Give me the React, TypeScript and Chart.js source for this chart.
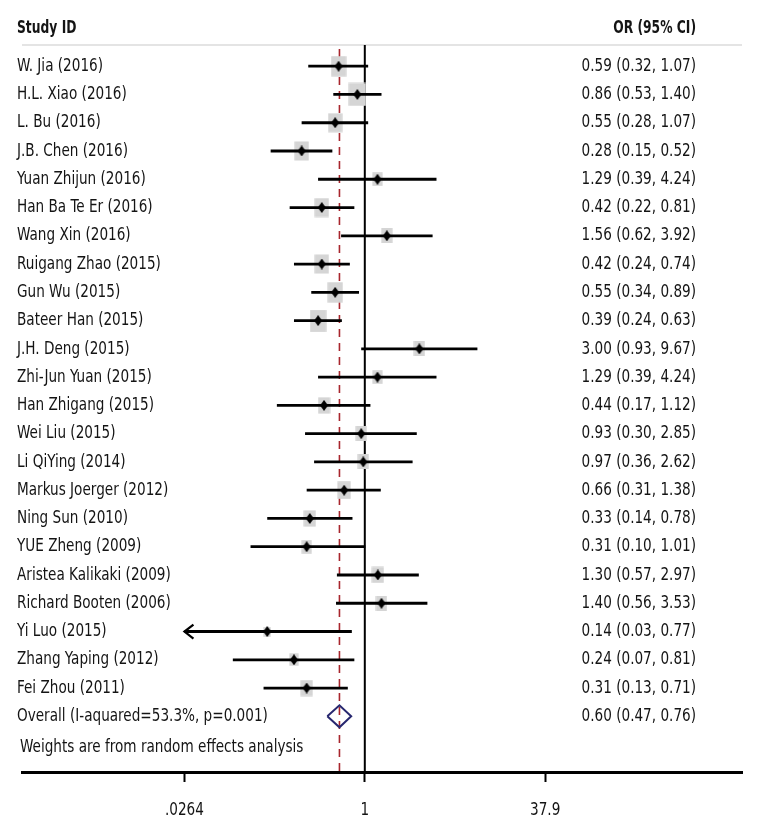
import { useEffect, useRef } from "react";
import { Chart, registerables } from "chart.js";

Chart.register(...registerables);

const STUDIES: string[] = [
  "W. Jia (2016)",
  "H.L. Xiao (2016)",
  "L. Bu (2016)",
  "J.B. Chen (2016)",
  "Yuan Zhijun (2016)",
  "Han Ba Te Er (2016)",
  "Wang Xin (2016)",
  "Ruigang Zhao (2015)",
  "Gun Wu (2015)",
  "Bateer Han (2015)",
  "J.H. Deng (2015)",
  "Zhi-Jun Yuan (2015)",
  "Han Zhigang (2015)",
  "Wei Liu (2015)",
  "Li QiYing (2014)",
  "Markus Joerger (2012)",
  "Ning Sun (2010)",
  "YUE Zheng (2009)",
  "Aristea Kalikaki (2009)",
  "Richard Booten (2006)",
  "Yi Luo (2015)",
  "Zhang Yaping (2012)",
  "Fei Zhou (2011)",
];

const OR: number[] = [0.59, 0.86, 0.55, 0.28, 1.29, 0.42, 1.56, 0.42, 0.55, 0.39, 3.0, 1.29, 0.44, 0.93, 0.97, 0.66, 0.33, 0.31, 1.3, 1.4, 0.14, 0.24, 0.31];
const LO: number[] = [0.32, 0.53, 0.28, 0.15, 0.39, 0.22, 0.62, 0.24, 0.34, 0.24, 0.93, 0.39, 0.17, 0.3, 0.36, 0.31, 0.14, 0.1, 0.57, 0.56, 0.026, 0.07, 0.13];
const HI: number[] = [1.07, 1.4, 1.07, 0.52, 4.24, 0.81, 3.92, 0.74, 0.89, 0.63, 9.67, 4.24, 1.12, 2.85, 2.62, 1.38, 0.78, 1.01, 2.97, 3.53, 0.77, 0.81, 0.71];
// approximate random-effects weights (%)
const WEIGHTS: number[] = [6.3, 8.1, 5.5, 5.5, 2.8, 5.5, 3.4, 5.5, 6.3, 7.2, 3.4, 2.8, 4.0, 3.4, 3.4, 4.7, 4.0, 2.8, 4.0, 3.4, 1.4, 2.3, 4.0];

const OVERALL_LABEL = "Overall (I-aquared=53.3%, p=0.001)";
const OVERALL_OR = 0.6;
const OVERALL_LO = 0.47;
const OVERALL_HI = 0.76;
const WEIGHTS_NOTE = "Weights are from random effects analysis";
const HEADER_LEFT = "Study ID";
const HEADER_RIGHT = "OR (95% CI)";

const TICK_VALUES: number[] = [0.0264, 1, 37.9];
const TICK_LABELS: string[] = [".0264", "1", "37.9"];
const X_MIN = 0.001;
const X_MAX = 2000;

const FONT_FAMILY = '"DejaVu Sans Condensed", "DejaVu Sans", sans-serif';
const FONT_SIZE = 18;
const SCALE_X = 0.84;
const SCALE_X_BOLD = 0.76;
const TEXT_COLOR = "#141414";

const fmt = (v: number) => v.toFixed(2);

function makeBox(w: number, h: number, color: string): HTMLCanvasElement {
  const c = document.createElement("canvas");
  c.width = Math.ceil(w);
  c.height = Math.ceil(h);
  const g = c.getContext("2d")!;
  g.fillStyle = color;
  g.fillRect((c.width - w) / 2, (c.height - h) / 2, w, h);
  return c;
}

function makeDiamond(w: number, h: number, color: string): HTMLCanvasElement {
  const c = document.createElement("canvas");
  c.width = w;
  c.height = h;
  const g = c.getContext("2d")!;
  g.fillStyle = color;
  g.beginPath();
  g.moveTo(w / 2, 0);
  g.lineTo(w, h / 2);
  g.lineTo(w / 2, h);
  g.lineTo(0, h / 2);
  g.closePath();
  g.fill();
  return c;
}

export default function App() {
  const ref = useRef<HTMLCanvasElement>(null);

  useEffect(() => {
    const canvas = ref.current;
    if (!canvas) return;
    const n = STUDIES.length;
    const overallRow = n;
    const noteRow = n + 1.1;
    const headerRow = -1.34;
    const xClip = TICK_VALUES[0];

    const ciData: any[] = [];
    STUDIES.forEach((_, i) => {
      ciData.push({ x: Math.max(LO[i], xClip), y: i });
      ciData.push({ x: HI[i], y: i });
      ciData.push({ x: HI[i], y: null });
    });
    const points = STUDIES.map((_, i) => ({ x: OR[i], y: i }));
    const boxes = WEIGHTS.map((w) => {
      const side = 6.1 * Math.sqrt(w);
      return makeBox(side, side * 1.33, "#d5d5d5");
    });
    const marker = makeDiamond(8, 11, "#000");
    const dh = 0.39;
    const diamond = [
      { x: OVERALL_LO, y: overallRow },
      { x: OVERALL_OR, y: overallRow - dh },
      { x: OVERALL_HI, y: overallRow },
      { x: OVERALL_OR, y: overallRow + dh },
      { x: OVERALL_LO, y: overallRow },
    ];

    const drawText = (ctx: CanvasRenderingContext2D, text: string, x: number, y: number, align: "left" | "right" | "center", bold = false) => {
      ctx.save();
      ctx.font = `${bold ? "bold " : ""}${FONT_SIZE}px ${FONT_FAMILY}`;
      ctx.textAlign = align;
      ctx.textBaseline = "middle";
      ctx.fillStyle = TEXT_COLOR;
      ctx.translate(x, y);
      ctx.scale(bold ? SCALE_X_BOLD : SCALE_X, 1);
      ctx.fillText(text, 0, 0);
      ctx.restore();
    };

    const forestPlugin = {
      id: "forest",
      beforeDatasetsDraw(chart: any) {
        const { ctx, chartArea } = chart;
        const xs = chart.scales.x;
        ctx.save();
        ctx.strokeStyle = "#e4e4e4";
        ctx.lineWidth = 2;
        ctx.beginPath();
        ctx.moveTo(chartArea.left, chartArea.top);
        ctx.lineTo(chartArea.right, chartArea.top);
        ctx.stroke();
        const x1 = xs.getPixelForValue(1);
        ctx.strokeStyle = "#000";
        ctx.lineWidth = 2;
        ctx.beginPath();
        ctx.moveTo(x1, chartArea.top);
        ctx.lineTo(x1, chartArea.bottom);
        ctx.stroke();
        const xo = xs.getPixelForValue(OVERALL_OR);
        ctx.strokeStyle = "#a8262d";
        ctx.lineWidth = 1.6;
        ctx.setLineDash([8, 6]);
        ctx.beginPath();
        ctx.moveTo(xo, chartArea.top + 4);
        ctx.lineTo(xo, chartArea.bottom);
        ctx.stroke();
        ctx.restore();
      },
      afterDatasetsDraw(chart: any) {
        const { ctx, chartArea } = chart;
        const xs = chart.scales.x;
        const ys = chart.scales.y;
        ctx.save();
        STUDIES.forEach((_, i) => {
          if (LO[i] < xClip) {
            const px = xs.getPixelForValue(xClip);
            const py = ys.getPixelForValue(i);
            ctx.strokeStyle = "#000";
            ctx.lineWidth = 2.2;
            ctx.beginPath();
            ctx.moveTo(px + 9, py - 7);
            ctx.lineTo(px, py);
            ctx.lineTo(px + 9, py + 7);
            ctx.stroke();
          }
        });
        ctx.restore();
        const leftX = chartArea.left - 5;
        const rightX = chartArea.right - 46;
        drawText(ctx, HEADER_LEFT, leftX, ys.getPixelForValue(headerRow), "left", true);
        drawText(ctx, HEADER_RIGHT, rightX, ys.getPixelForValue(headerRow), "right", true);
        STUDIES.forEach((name, i) => {
          const py = ys.getPixelForValue(i);
          drawText(ctx, name, leftX, py, "left");
          drawText(ctx, `${fmt(OR[i])} (${fmt(LO[i])}, ${fmt(HI[i])})`, rightX, py, "right");
        });
        const po = ys.getPixelForValue(overallRow);
        drawText(ctx, OVERALL_LABEL, leftX, po, "left");
        drawText(ctx, `${fmt(OVERALL_OR)} (${fmt(OVERALL_LO)}, ${fmt(OVERALL_HI)})`, rightX, po, "right");
        drawText(ctx, WEIGHTS_NOTE, leftX + 3, ys.getPixelForValue(noteRow), "left");
        const labelY = chartArea.bottom + 38;
        TICK_VALUES.forEach((v, i) => {
          drawText(ctx, TICK_LABELS[i], xs.getPixelForValue(v), labelY, "center");
        });
      },
    };

    const chart = new Chart(canvas, {
      type: "scatter",
      data: {
        datasets: [
          {
            label: "overall",
            data: diamond,
            showLine: true,
            borderColor: "#27276f",
            borderWidth: 2,
            pointRadius: 0,
            fill: false,
            tension: 0,
            order: 1,
          } as any,
          {
            label: "estimate",
            data: points,
            pointStyle: marker,
            pointRadius: 1,
            order: 2,
          } as any,
          {
            label: "ci",
            data: ciData,
            showLine: true,
            spanGaps: false,
            borderColor: "#000",
            borderWidth: 2.8,
            pointRadius: 0,
            order: 3,
          } as any,
          {
            label: "weight",
            data: points,
            pointStyle: boxes,
            pointRadius: 1,
            order: 4,
          } as any,
        ],
      },
      options: {
        animation: false,
        responsive: false,
        devicePixelRatio: 1,
        layout: { padding: { left: 22, right: 18, top: 45, bottom: 0 } },
        plugins: { legend: { display: false }, tooltip: { enabled: false } },
        scales: {
          x: {
            type: "logarithmic",
            min: X_MIN,
            max: X_MAX,
            afterBuildTicks: (scale: any) => {
              scale.ticks = TICK_VALUES.map((v) => ({ value: v }));
            },
            afterFit: (scale: any) => {
              scale.height = 68;
            },
            ticks: {
              display: false,
              callback: (_v: any, i: number) => TICK_LABELS[i],
              autoSkip: false,
            },
            grid: {
              drawOnChartArea: false,
              drawTicks: true,
              tickLength: 10,
              tickColor: "#000",
              tickWidth: 2,
            },
            border: { display: true, color: "#000", width: 3 },
          },
          y: {
            type: "linear",
            reverse: true,
            min: -0.75,
            max: 24.97,
            display: false,
          },
        },
      } as any,
      plugins: [forestPlugin],
    });
    return () => chart.destroy();
  }, []);

  return (
    <div style={{ position: "absolute", left: 0, top: 0, width: 760, height: 840, background: "#fff" }}>
      <canvas ref={ref} width={760} height={840} style={{ display: "block" }} />
    </div>
  );
}
